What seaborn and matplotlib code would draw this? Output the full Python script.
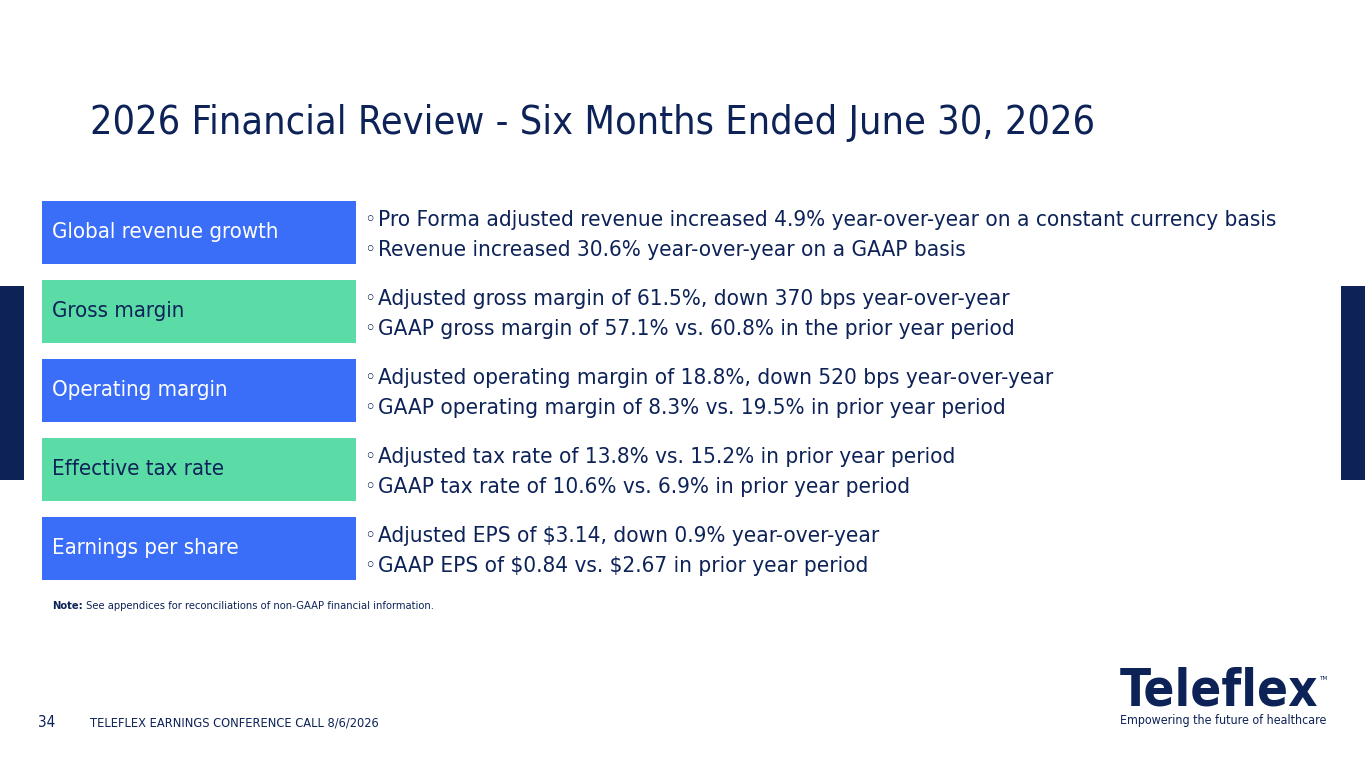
import matplotlib
matplotlib.use("Agg")
import matplotlib.pyplot as plt
import matplotlib.transforms as mtransforms
from matplotlib.patches import Rectangle
from matplotlib import font_manager
import seaborn as sns
import pandas as pd

# ---------------- data ----------------
title = "2026 Financial Review - Six Months Ended June 30, 2026"
categories = ["Global revenue growth", "Gross margin", "Operating margin",
              "Effective tax rate", "Earnings per share"]
box_values = [1, 1, 1, 1, 1]
box_colors = ["#3B6EF8", "#5BDBA6", "#3B6EF8", "#5BDBA6", "#3B6EF8"]
label_colors = ["white", "#0D2257", "white", "#0D2257", "white"]
bullets_first = [
    "Pro Forma adjusted revenue increased 4.9% year-over-year on a constant currency basis",
    "Adjusted gross margin of 61.5%, down 370 bps year-over-year",
    "Adjusted operating margin of 18.8%, down 520 bps year-over-year",
    "Adjusted tax rate of 13.8% vs. 15.2% in prior year period",
    "Adjusted EPS of $3.14, down 0.9% year-over-year",
]
bullets_second = [
    "Revenue increased 30.6% year-over-year on a GAAP basis",
    "GAAP gross margin of 57.1% vs. 60.8% in the prior year period",
    "GAAP operating margin of 8.3% vs. 19.5% in prior year period",
    "GAAP tax rate of 10.6% vs. 6.9% in prior year period",
    "GAAP EPS of $0.84 vs. $2.67 in prior year period",
]
note_bold = "Note:"
note_text = " See appendices for reconciliations of non-GAAP financial information."
page_number = "34"
footer_text = "TELEFLEX EARNINGS CONFERENCE CALL 8/6/2026"
logo_text = "Teleflex"
tagline = "Empowering the future of healthcare"

NAVY = "#0D2257"

sns.set_theme(style="white")
stretch = "normal"
for f in font_manager.fontManager.ttflist:
    if f.name == "DejaVu Sans" and str(f.stretch) in ("condensed", "semi-condensed"):
        stretch = "condensed"
        break
plt.rcParams["font.family"] = ["DejaVu Sans"]
plt.rcParams["font.stretch"] = stretch

W, H = 1365, 768
fig = plt.figure(figsize=(W / 100, H / 100), dpi=100)
fig.patch.set_facecolor("white")

ax_bg = fig.add_axes([0, 0, 1, 1])
ax_bg.set_xlim(0, W)
ax_bg.set_ylim(H, 0)
ax_bg.axis("off")

renderer = fig.canvas.get_renderer()


def fit(ax, x, y, s, width, size, **kw):
    t = ax.text(x, y, s, fontsize=size, parse_math=False, **kw)
    w = t.get_window_extent(renderer=renderer).width
    t.set_fontsize(size * width / w)
    return t


# side bars
ax_bg.add_patch(Rectangle((0, 286), 24, 194, color=NAVY, lw=0))
ax_bg.add_patch(Rectangle((1341, 286), 24, 194, color=NAVY, lw=0))

# title
fit(ax_bg, 90, 134, title, 1003, 29, color=NAVY, va="baseline", ha="left")

# boxes via seaborn barplot
top, bottom = 193, 588
ax_box = fig.add_axes([42 / W, (H - bottom) / H, 314 / W, (bottom - top) / H])
df = pd.DataFrame({"category": categories, "value": box_values})
sns.barplot(data=df, x="value", y="category", hue="category", palette=box_colors,
            orient="h", width=63 / 79, saturation=1, legend=False,
            edgecolor="none", linewidth=0, ax=ax_box)
ax_box.set_xlim(0, 1)
ax_box.set_ylim(len(categories) - 0.5, -0.5)
ax_box.axis("off")

# box labels
lab_t = ax_box.text(10 / 314, 0.075, categories[0], fontsize=16, va="baseline",
                    color=label_colors[0])
lw = lab_t.get_window_extent(renderer=renderer).width
lab_size = 16 * 228 / lw
lab_t.set_fontsize(lab_size)
for i in range(1, len(categories)):
    ax_box.text(10 / 314, i + 0.075, categories[i], fontsize=lab_size,
                va="baseline", color=label_colors[i])

# bullet texts
blend = mtransforms.blended_transform_factory(ax_bg.transData, ax_box.transData)
t0 = ax_bg.text(378, -0.085, bullets_first[0], fontsize=16, va="baseline",
                color=NAVY, transform=blend, parse_math=False)
w0 = t0.get_window_extent(renderer=renderer).width
bsize = 16 * 897 / w0
t0.set_fontsize(bsize)
for i in range(len(categories)):
    if i > 0:
        ax_bg.text(378, i - 0.085, bullets_first[i], fontsize=bsize, va="baseline",
                   color=NAVY, transform=blend, parse_math=False)
    ax_bg.text(378, i + 0.295, bullets_second[i], fontsize=bsize, va="baseline",
               color=NAVY, transform=blend, parse_math=False)
    for dy in (-0.085, 0.295):
        ax_bg.text(369.5, i + dy, "\u25e6", fontsize=bsize * 0.95, va="baseline",
                   ha="center", color=NAVY, transform=blend)

# note
nb = ax_bg.text(52, 609, note_bold, fontsize=8.0, fontweight="bold", color=NAVY,
                va="baseline")
nb_w = nb.get_window_extent(renderer=renderer).width
ax_bg.text(52 + nb_w, 609, note_text, fontsize=8.0, color=NAVY, va="baseline")

# footer
ax_bg.text(38, 727, page_number, fontsize=11, color=NAVY, va="baseline")
fit(ax_bg, 90, 727, footer_text, 288, 11, color=NAVY, va="baseline")

# logo
fit(ax_bg, 1120, 705, logo_text, 198, 34, color=NAVY, va="baseline",
    fontweight="bold")
ax_bg.text(1320, 676, "TM", fontsize=4.5, color=NAVY, va="top")
fit(ax_bg, 1120, 724, tagline, 206, 8, color=NAVY, va="baseline")

fig.savefig("out.png", dpi=100, facecolor="white")
